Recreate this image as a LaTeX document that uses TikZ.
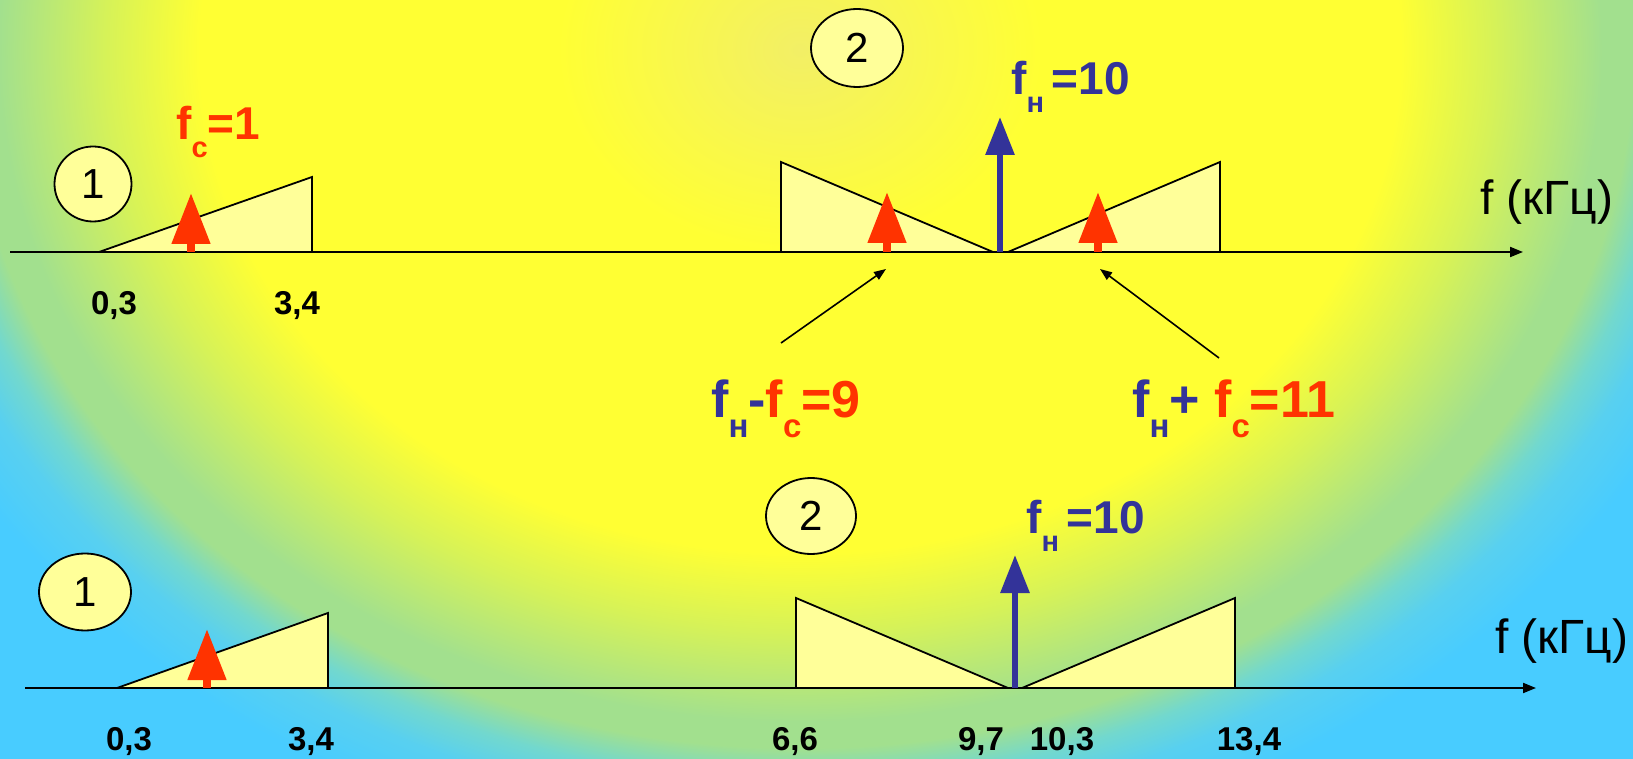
\documentclass[tikz,border=0pt]{standalone}
\usepackage{fontspec}
\setmainfont{Liberation Sans}
\usetikzlibrary{arrows.meta,shapes.geometric}
\definecolor{bgpale}{HTML}{F2EF66}
\definecolor{bgyellow}{HTML}{FFFF33}
\definecolor{bgyg}{HTML}{D6F258}
\definecolor{bggreen}{HTML}{A2E08E}
\definecolor{bgteal}{HTML}{72D8CE}
\definecolor{bgcyan}{HTML}{58D0F0}
\definecolor{bgblue}{HTML}{48CCFF}
\definecolor{fred}{HTML}{FF3300}
\definecolor{fblue}{HTML}{333399}
\definecolor{bandfill}{HTML}{FFFF99}
% inner 25bp of the shading is fitted to the shaded rectangle
\pgfdeclareradialshading{bgshade}{\pgfpoint{0bp}{0bp}}{color(0bp)=(bgpale); color(5.4bp)=(bgyellow); color(13.4bp)=(bgyellow); color(15.5bp)=(bgyg); color(17.9bp)=(bggreen); color(18.6bp)=(bggreen); color(19.5bp)=(bgteal); color(20.4bp)=(bgcyan); color(21.8bp)=(bgblue); color(50bp)=(bgblue)}
\newcommand\subsm[1]{\raisebox{-18pt}{\fontsize{29}{30}\selectfont #1}}
\newcommand\subbg[1]{\raisebox{-20pt}{\fontsize{33}{34}\selectfont #1}}
\tikzset{
  axisline/.style={line width=2pt, -{Triangle[length=13pt,width=10pt]}},
  band/.style={draw, fill=bandfill, line width=1.8pt, line join=miter},
  numcirc/.style={ellipse, draw, fill=bandfill, line width=1.8pt, inner sep=0pt, font=\fontsize{42}{44}\selectfont},
  sigred/.style={draw=fred, line width=8pt, -{Triangle[length=51pt,width=37pt]}},
  sigblue/.style={draw=fblue, line width=6pt, -{Triangle[length=38pt,width=28pt]}},
  pointer/.style={line width=1.6pt, -{Triangle[length=12pt,width=9pt]}},
  tick/.style={anchor=base, inner sep=0pt, font=\fontsize{33}{35}\selectfont\bfseries},
  flabel/.style={anchor=base west, inner sep=0pt, font=\fontsize{46}{48}\selectfont\bfseries},
  biglabel/.style={anchor=base west, inner sep=0pt, font=\fontsize{52}{56}\selectfont\bfseries},
  unit/.style={anchor=base west, inner sep=0pt, font=\fontsize{48}{50}\selectfont},
}
\begin{document}
\begin{tikzpicture}[x=1pt,y=-1pt]
\useasboundingbox (0,0) rectangle (1633,759);
\fill[bgblue] (0,0) rectangle (1633,759);
\begin{scope}
\clip (0,0) rectangle (1633,759);
\shade[shading=bgshade] (-320,-888) rectangle (1920,988);
\end{scope}

% ---------- top spectrum ----------
\coordinate (ta0) at (10,252);
\coordinate (ta1) at (1523,252);
\draw[band] (99,252) -- (312,177) -- (312,252) -- cycle;
\draw[band] (781,252) -- (781,162) -- (993,252) -- cycle;
\draw[band] (1008,252) -- (1220,162) -- (1220,252) -- cycle;
\draw[axisline] (ta0) -- (ta1);

\coordinate (tr1b) at (191,252); \coordinate (tr1t) at (191,193);
\coordinate (tr2b) at (887,252); \coordinate (tr2t) at (887,192);
\coordinate (tr3b) at (1098,252); \coordinate (tr3t) at (1098,192);
\coordinate (tbb) at (1000,252); \coordinate (tbt) at (1000,117);
\draw[sigred] (tr1b) -- (tr1t);
\draw[sigred] (tr2b) -- (tr2t);
\draw[sigred] (tr3b) -- (tr3t);
\draw[sigblue] (tbb) -- (tbt);

\node[numcirc, minimum width=77pt, minimum height=75pt] (tc1) at (93,184) {1};
\node[numcirc, minimum width=92pt, minimum height=78pt] (tc2) at (857,48) {2};

\node[flabel, text=fred] (tfc) at (176,140) {f\subsm{с}=1};
\node[flabel, text=fblue] (tfh) at (1011,95) {f\subsm{н}\,=10};
\node[unit] (tunit) at (1480,215) {f (кГц)};
\node[tick] (t03) at (114,315) {0,3};
\node[tick] (t34) at (297,315) {3,4};

\coordinate (p1s) at (781,343);
\coordinate (p1e) at (886,269);
\coordinate (p2s) at (1219,358);
\coordinate (p2e) at (1100,269);
\draw[pointer] (p1s) -- (p1e);
\draw[pointer] (p2s) -- (p2e);

\node[biglabel] (ldiff) at (711,417) {\textcolor{fblue}{f\subbg{н}-}\textcolor{fred}{f\subbg{с}=9}};
\node[biglabel] (lsum) at (1132,417) {\textcolor{fblue}{f\subbg{н}+ }\textcolor{fred}{f\subbg{с}=11}};

% ---------- bottom spectrum ----------
\coordinate (ba0) at (25,688);
\coordinate (ba1) at (1536,688);
\draw[band] (117,688) -- (328,613) -- (328,688) -- cycle;
\draw[band] (796,688) -- (796,598) -- (1008,688) -- cycle;
\draw[band] (1022,688) -- (1235,598) -- (1235,688) -- cycle;
\draw[axisline] (ba0) -- (ba1);

\coordinate (br1b) at (207,688); \coordinate (br1t) at (207,629);
\coordinate (bbb) at (1015,688); \coordinate (bbt) at (1015,555);
\draw[sigred] (br1b) -- (br1t);
\draw[sigblue] (bbb) -- (bbt);

\node[numcirc, minimum width=92pt, minimum height=77pt] (bc1) at (85,592) {1};
\node[numcirc, minimum width=90pt, minimum height=76pt] (bc2) at (811,516) {2};

\node[flabel, text=fblue] (bfh) at (1026,533) {f\subsm{н}\,=10};
\node[unit] (bunit) at (1495,653) {f (кГц)};
\node[tick] (b03) at (129,750) {0,3};
\node[tick] (b34) at (311,750) {3,4};
\node[tick] (b66) at (795,750) {6,6};
\node[tick] (b97) at (981,750) {9,7};
\node[tick] (b103) at (1062,750) {10,3};
\node[tick] (b134) at (1249,750) {13,4};
\end{tikzpicture}
\end{document}
